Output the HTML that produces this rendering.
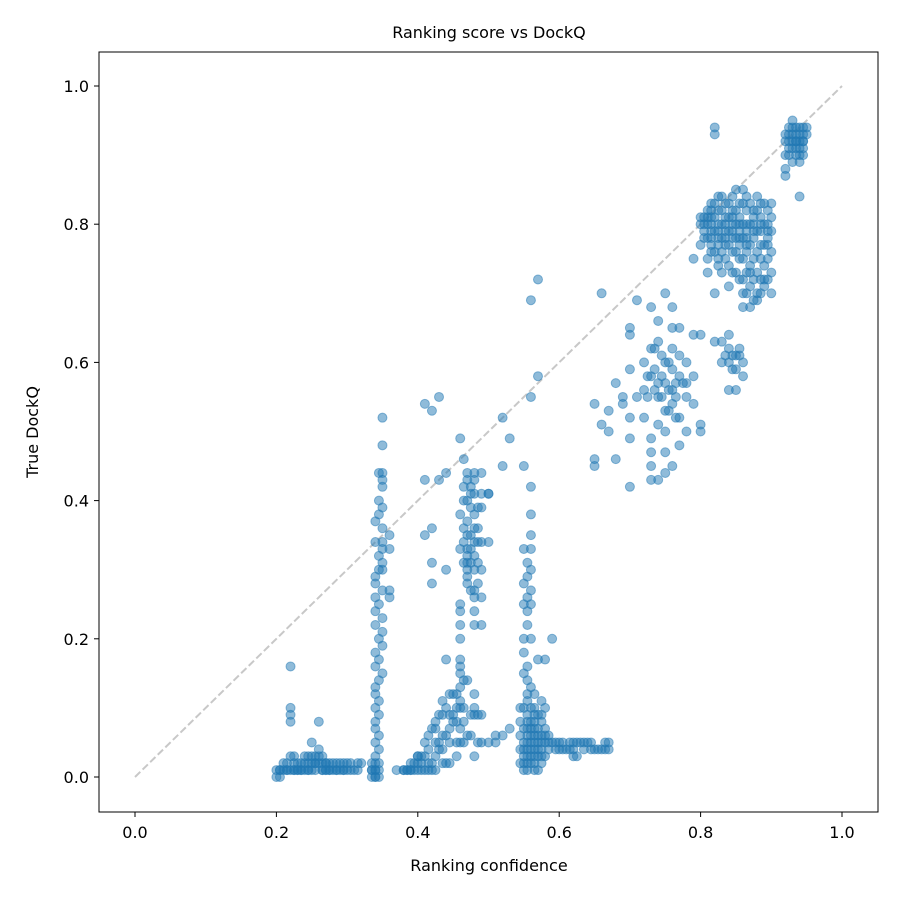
<!DOCTYPE html>
<html><head><meta charset="utf-8"><style>
body{margin:0;background:#fff;}
svg text{font-family:"DejaVu Sans","Liberation Sans",sans-serif;fill:#000;}
</style></head><body>
<svg id="chart" width="900" height="900" viewBox="0 0 900 900" xmlns="http://www.w3.org/2000/svg">
<rect x="0" y="0" width="900" height="900" fill="#fff"/>
<text x="489" y="38" font-size="16" text-anchor="middle">Ranking score vs DockQ</text>
<text x="489" y="871" font-size="16" text-anchor="middle">Ranking confidence</text>
<text x="38" y="432" font-size="16" text-anchor="middle" transform="rotate(-90 38 432)">True DockQ</text>
<g id="marks"></g>
<rect x="99" y="52" width="779" height="760" fill="none" stroke="#000" stroke-width="1"/>
<g id="axes"></g>
</svg>
<script>
const xTicks = [0, 0.2, 0.4, 0.6, 0.8, 1.0];
const yTicks = [0, 0.2, 0.4, 0.6, 0.8, 1.0];
const tickLabels = ["0.0","0.2","0.4","0.6","0.8","1.0"];
const columnX = [0.34,0.35,0.36,0.46,0.47,0.48,0.49,0.50,0.55,0.56,0.57,0.58,0.59,0.80,0.81,0.82,0.83,0.84,0.85,0.86,0.87,0.88,0.89,0.90,0.92,0.93,0.94,0.95,
 0.805,0.815,0.825,0.835,0.845,0.855,0.865,0.875,0.885,0.895,0.925,0.935,0.945,
 0.205,0.215,0.225,0.235,0.245,0.255,0.265,0.275,0.285,0.295,0.305,0.315,0.335,0.345,
 0.385,0.395,0.405,0.415,0.425,0.435,0.445,0.455,0.465,0.475,0.485,
 0.545,0.555,0.565,0.575,0.585,0.595,0.605,0.615,0.625,0.635,0.645,0.655,0.665];
const columnY = [
 [0.00,0.01,0.02,0.03,0.05,0.07,0.08,0.10,0.12,0.13,0.16,0.18,0.22,0.24,0.26,0.28,0.29,0.34,0.37,0.00,0.01],
 [0.52,0.48,0.44,0.43,0.42,0.39,0.36,0.33,0.30,0.27,0.23,0.21,0.19,0.15,0.34,0.31],
 [0.27,0.26,0.33,0.35],
 [0.13,0.16,0.17,0.20,0.22,0.24,0.25,0.33,0.38,0.49,0.07,0.10],
 [0.28,0.30,0.31,0.33,0.35,0.37,0.40,0.43,0.44,0.32,0.29],
 [0.26,0.27,0.30,0.32,0.34,0.36,0.38,0.41,0.43,0.24,0.22,0.12,0.10],
 [0.22,0.26,0.30,0.34,0.39,0.41,0.09],
 [0.34,0.41],
 [0.01,0.03,0.05,0.07,0.10,0.15,0.18,0.20,0.25,0.28,0.33,0.45,0.02,0.04],
 [0.02,0.04,0.05,0.06,0.08,0.10,0.13,0.20,0.25,0.27,0.30,0.33,0.35,0.38,0.42,0.55,0.69,0.03,0.07],
 [0.01,0.03,0.05,0.06,0.07,0.09,0.17,0.58,0.72,0.04],
 [0.03,0.05,0.06,0.07,0.10,0.17],
 [0.05,0.20],
 [0.77,0.80,0.81],
 [0.75,0.78,0.80,0.81,0.82],
 [0.76,0.79,0.81,0.83,0.94,0.93],
 [0.73,0.76,0.78,0.80,0.82,0.84],
 [0.71,0.74,0.77,0.79,0.81,0.83],
 [0.73,0.76,0.78,0.80,0.82,0.85],
 [0.68,0.72,0.75,0.78,0.80,0.83,0.85,0.70],
 [0.68,0.71,0.74,0.77,0.80,0.83,0.73],
 [0.69,0.73,0.76,0.79,0.82,0.84,0.70],
 [0.71,0.74,0.77,0.80,0.83,0.72],
 [0.70,0.73,0.76,0.79,0.81,0.83],
 [0.87,0.88,0.90,0.92,0.93],
 [0.89,0.91,0.92,0.93,0.94,0.95],
 [0.89,0.90,0.91,0.92,0.93,0.94,0.84],
 [0.93,0.94],
 [0.79,0.80,0.81,0.78],
 [0.76,0.77,0.79,0.80,0.81,0.82,0.83,0.78],
 [0.74,0.75,0.77,0.78,0.80,0.82,0.84,0.79],
 [0.75,0.77,0.79,0.81,0.83,0.78,0.80],
 [0.73,0.76,0.78,0.80,0.82,0.79,0.81,0.84],
 [0.72,0.75,0.77,0.79,0.81,0.83,0.78,0.80],
 [0.70,0.73,0.76,0.78,0.80,0.82,0.84,0.77,0.79],
 [0.69,0.72,0.75,0.78,0.80,0.82,0.79,0.81],
 [0.70,0.72,0.75,0.77,0.79,0.81,0.83,0.80],
 [0.72,0.75,0.78,0.80,0.82,0.77,0.79],
 [0.90,0.91,0.92,0.93,0.94],
 [0.90,0.91,0.92,0.93,0.94,0.92],
 [0.90,0.91,0.92,0.93,0.94,0.92],
 [0.01,0.01,0.00],
 [0.01,0.02,0.01],
 [0.01,0.02,0.03,0.01],
 [0.01,0.02,0.01],
 [0.01,0.02,0.03,0.01],
 [0.01,0.02,0.03,0.02],
 [0.01,0.02,0.03,0.01],
 [0.01,0.02,0.01],
 [0.01,0.02,0.01],
 [0.01,0.02,0.01],
 [0.01,0.02],
 [0.01,0.02],
 [0.00,0.01,0.02,0.01],
 [0.00,0.01,0.02,0.04,0.06,0.09,0.11,0.14,0.17,0.20,0.25,0.30,0.32,0.38,0.40,0.44],
 [0.01,0.01],
 [0.01,0.02],
 [0.01,0.02,0.03],
 [0.01,0.02,0.04,0.06],
 [0.01,0.03,0.05,0.07,0.08],
 [0.02,0.04,0.06,0.09,0.11],
 [0.02,0.05,0.07,0.09,0.12],
 [0.03,0.05,0.08,0.10,0.12],
 [0.05,0.08,0.10,0.14,0.31,0.34,0.36,0.40,0.42,0.46],
 [0.06,0.09,0.27,0.31,0.33,0.35,0.39,0.41,0.42],
 [0.05,0.09,0.28,0.31,0.34,0.36,0.39],
 [0.02,0.04,0.06,0.08,0.10],
 [0.01,0.02,0.03,0.04,0.05,0.06,0.07,0.08,0.09,0.11,0.12,0.14,0.16,0.22,0.24,0.26,0.29,0.31],
 [0.01,0.02,0.03,0.04,0.05,0.06,0.07,0.08,0.09,0.10,0.12],
 [0.02,0.03,0.04,0.05,0.06,0.08,0.09,0.11],
 [0.04,0.05,0.06],
 [0.04,0.05],
 [0.04,0.05],
 [0.04,0.05],
 [0.03,0.05],
 [0.04,0.05],
 [0.04,0.05],
 [0.04],
 [0.04,0.05]
];
const extraX = [0.20,0.20,0.21,0.21,0.22,0.22,0.22,0.22,0.22,0.22,0.23,0.23,0.24,0.24,0.25,0.25,0.25,0.25,0.26,0.26,0.26,0.27,0.27,0.27,0.28,0.28,0.29,0.29,0.30,0.30,0.31,0.32,0.23,0.26,0.24,0.27,
 0.37,0.38,0.39,0.40,0.40,0.41,0.41,0.42,0.42,0.43,0.43,0.44,0.44,0.45,0.45,0.46,0.46,0.47,0.38,0.39,0.40,0.41,0.42,0.43,0.44,0.45,0.46,0.47,0.48,0.49,0.50,0.51,0.52,0.53,
 0.41,0.42,0.43,0.41,0.42,0.42,0.41,0.42,0.44,0.43,0.44,0.44,0.48,0.51,0.52,0.53,0.52,0.50,0.49,0.48,0.40,0.39,
 0.60,0.61,0.62,0.62,0.63,0.64,0.65,0.66,0.67,0.67,0.60,0.62,
 0.65,0.65,0.65,0.66,0.66,0.67,0.67,0.68,0.68,0.69,0.69,0.70,0.70,0.70,0.70,0.70,0.70,0.71,0.71,0.72,0.72,0.72,0.73,0.73,0.73,0.73,0.73,0.73,0.73,0.74,0.74,0.74,0.74,0.74,0.74,0.75,0.75,0.75,0.75,0.75,0.75,0.75,0.76,0.76,0.76,0.76,0.76,0.76,0.76,0.77,0.77,0.77,0.77,0.77,0.78,0.78,0.78,0.78,0.79,0.79,0.79,0.79,0.80,0.80,0.80,0.81,0.82,0.83,0.84,0.84,0.84,0.85,0.85,0.85,0.86,0.86,0.84,0.82,0.83,
 0.735,0.735,0.745,0.745,0.755,0.755,0.765,0.765,0.735,0.745,0.755,0.765,0.775,0.725,0.725,0.835,0.845,0.855,0.845,0.855];
const extraY = [0.00,0.01,0.01,0.02,0.01,0.03,0.08,0.09,0.10,0.16,0.02,0.01,0.02,0.01,0.03,0.05,0.01,0.02,0.02,0.03,0.04,0.01,0.02,0.02,0.01,0.02,0.01,0.02,0.01,0.02,0.01,0.02,0.01,0.08,0.03,0.01,
 0.01,0.01,0.01,0.01,0.02,0.03,0.05,0.02,0.07,0.09,0.04,0.10,0.06,0.12,0.08,0.11,0.15,0.14,0.01,0.01,0.03,0.01,0.01,0.05,0.02,0.09,0.05,0.06,0.09,0.05,0.05,0.05,0.06,0.07,
 0.54,0.53,0.55,0.43,0.36,0.31,0.35,0.28,0.44,0.43,0.30,0.17,0.03,0.06,0.52,0.49,0.45,0.41,0.44,0.44,0.03,0.02,
 0.05,0.04,0.05,0.03,0.05,0.05,0.04,0.04,0.04,0.05,0.04,0.04,
 0.54,0.46,0.45,0.51,0.70,0.50,0.53,0.46,0.57,0.55,0.54,0.49,0.52,0.42,0.59,0.65,0.64,0.55,0.69,0.56,0.60,0.52,0.58,0.62,0.47,0.45,0.43,0.68,0.49,0.55,0.57,0.63,0.51,0.43,0.66,0.60,0.57,0.53,0.70,0.44,0.47,0.50,0.56,0.59,0.62,0.54,0.45,0.65,0.68,0.58,0.52,0.48,0.61,0.65,0.55,0.60,0.57,0.50,0.58,0.54,0.64,0.75,0.64,0.51,0.50,0.73,0.70,0.63,0.64,0.62,0.60,0.59,0.61,0.56,0.58,0.60,0.56,0.63,0.60,
 0.56,0.59,0.55,0.58,0.56,0.60,0.57,0.55,0.62,0.61,0.53,0.52,0.57,0.55,0.58,0.61,0.61,0.61,0.59,0.62];

const NS = "http://www.w3.org/2000/svg";
function xScale(v){ return 135 + v * 707; }
function yScale(v){ return 777 - v * 691; }
const marks = document.getElementById('marks');
const axes = document.getElementById('axes');

const diag = document.createElementNS(NS,'line');


diag.setAttribute('x1', xScale(0)); diag.setAttribute('y1', yScale(0));
diag.setAttribute('x2', xScale(1)); diag.setAttribute('y2', yScale(1));
diag.setAttribute('stroke', '#c8c8c8'); diag.setAttribute('stroke-width', '2');
diag.setAttribute('stroke-dasharray', '7.4,3.2');
marks.appendChild(diag);

function dot(x, y){
  const c = document.createElementNS(NS,'circle');
  
  
  c.setAttribute('cx', xScale(x)); c.setAttribute('cy', yScale(y)); c.setAttribute('r', 4.5);
  c.setAttribute('fill', '#1f77b4'); c.setAttribute('fill-opacity', '0.5');
  c.setAttribute('stroke', '#1f77b4'); c.setAttribute('stroke-opacity', '0.5'); c.setAttribute('stroke-width', '1');
  marks.appendChild(c);
}
columnX.forEach((x, i) => columnY[i].forEach(y => dot(x, y)));
extraX.forEach((x, i) => dot(x, extraY[i]));

xTicks.forEach((v, i) => {
  const t = document.createElementNS(NS,'line');
  
  
  t.setAttribute('x1', xScale(v)); t.setAttribute('x2', xScale(v));
  t.setAttribute('y1', 812); t.setAttribute('y2', 817); t.setAttribute('stroke', '#000');
  axes.appendChild(t);
  const l = document.createElementNS(NS,'text');
  
  
  l.setAttribute('x', xScale(v)); l.setAttribute('y', 838);
  l.setAttribute('font-size', '16'); l.setAttribute('text-anchor', 'middle');
  l.textContent = tickLabels[i];
  axes.appendChild(l);
});
yTicks.forEach((v, i) => {
  const t = document.createElementNS(NS,'line');
  
  
  t.setAttribute('x1', 94); t.setAttribute('x2', 99);
  t.setAttribute('y1', yScale(v)); t.setAttribute('y2', yScale(v)); t.setAttribute('stroke', '#000');
  axes.appendChild(t);
  const l = document.createElementNS(NS,'text');
  
  
  l.setAttribute('x', 89); l.setAttribute('y', yScale(v) + 6);
  l.setAttribute('font-size', '16'); l.setAttribute('text-anchor', 'end');
  l.textContent = tickLabels[i];
  axes.appendChild(l);
});
</script>
</body></html>
